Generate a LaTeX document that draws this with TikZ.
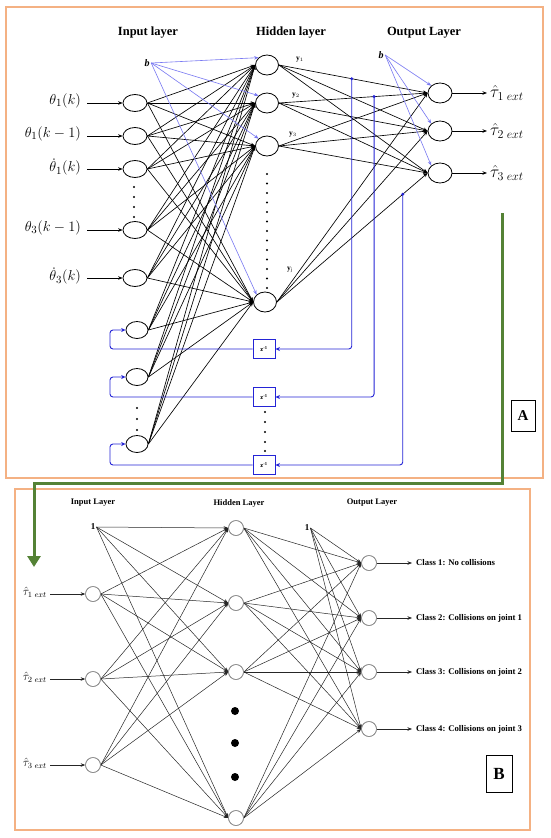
\documentclass[tikz,border=0pt]{standalone}
\usepackage{fontspec}
\setmainfont{Liberation Serif}
\usetikzlibrary{shapes.geometric,arrows.meta}
\definecolor{frameor}{HTML}{F4B183}
\definecolor{grn}{HTML}{548235}
\definecolor{lblue}{HTML}{7878F2}
\definecolor{dblue}{HTML}{2424D6}
\newcommand{\tauext}[2]{$\hat{\tau}_{\mbox{\fontsize{#2}{#2}\selectfont$#1\;ext$}}$}
\begin{document}
\begin{tikzpicture}[x=1pt,y=-1pt,
  inn/.style={ellipse,draw,line width=0.8pt,minimum width=24pt,minimum height=17pt,inner sep=0pt},
  ctx/.style={ellipse,draw,line width=0.8pt,minimum width=22pt,minimum height=17pt,inner sep=0pt},
  hid/.style={ellipse,draw,line width=0.8pt,minimum width=23pt,minimum height=20pt,inner sep=0pt},
  outn/.style={ellipse,draw,line width=0.8pt,minimum width=24pt,minimum height=20pt,inner sep=0pt},
  nline/.style={line width=0.65pt,-{Stealth[length=4.5pt,width=3.5pt]}},
  bline/.style={line width=0.6pt,lblue,-{Stealth[length=4.5pt,width=3.5pt]}},
  fbarr/.style={line width=0.9pt,dblue,rounded corners=3pt,-{Stealth[length=4.5pt,width=4pt]}},
  zbox/.style={draw=dblue,line width=0.9pt,minimum width=22pt,minimum height=19pt,inner sep=0pt,font=\fontsize{6.5}{7}\selectfont\bfseries},
  mlab/.style={font=\fontsize{15.5}{17}\selectfont,inner sep=1pt},
  tlab/.style={font=\fontsize{16}{17}\selectfont,inner sep=3pt},
  ttl/.style={font=\fontsize{12.5}{14}\selectfont\bfseries},
  ylab/.style={font=\fontsize{7.5}{8}\selectfont\bfseries,inner sep=0pt},
  bn/.style={circle,draw=black!45,line width=0.6pt,minimum size=15pt,inner sep=0pt,fill=white},
  bl/.style={line width=0.5pt,black!85,-{Stealth[length=4.5pt,width=3.5pt]}},
  ttlb/.style={font=\fontsize{8.5}{10}\selectfont\bfseries},
  cls/.style={font=\fontsize{8.7}{10}\selectfont\bfseries,anchor=west,inner sep=4pt},
  slab/.style={font=\fontsize{12}{13}\selectfont,inner sep=3pt,anchor=east},
  lettbox/.style={draw,line width=0.7pt,font=\fontsize{15}{17}\selectfont\bfseries,inner sep=0pt}
]
\useasboundingbox (0,0) rectangle (550,838);
\fill[white] (0,0) rectangle (550,838);

% frames
\draw[frameor,line width=1.2pt] (6,7) rectangle (543,478);
\draw[frameor,line width=1.2pt] (15,489) rectangle (530,830);

% ================= TOP PANEL =================
\node[ttl] (tin) at (148,33) {Input layer};
\node[ttl] (thid) at (291,33) {Hidden layer};
\node[ttl] (tout) at (424,33) {Output Layer};

% input neurons
\node[inn] (i1) at (135,103) {};
\node[inn] (i2) at (135,136) {};
\node[inn] (i3) at (135,169) {};
\node[inn] (i4) at (135,230) {};
\node[inn] (i5) at (135,278) {};
\node[ctx] (c1) at (137,330) {};
\node[ctx] (c2) at (137,377) {};
\node[ctx] (c3) at (137,444) {};

% hidden
\node[hid] (h1) at (267,65) {};
\node[hid] (h2) at (267,103) {};
\node[hid] (h3) at (267,146) {};
\node[hid] (h4) at (265,302) {};

% output
\node[outn] (o1) at (440,93) {};
\node[outn] (o2) at (440,131) {};
\node[outn] (o3) at (440,173) {};

% input labels
\node[mlab,anchor=east] (l1) at (82,101) {$\theta_1(k)$};
\node[mlab,anchor=east] (l2) at (82,134) {$\theta_1(k-1)$};
\node[mlab,anchor=east] (l3) at (82,167) {$\dot{\theta}_1(k)$};
\node[mlab,anchor=east] (l4) at (82,228) {$\theta_3(k-1)$};
\node[mlab,anchor=east] (l5) at (82,276) {$\dot{\theta}_3(k)$};
\foreach \a in {i1,i2,i3,i4,i5}
  \draw[nline] (\a.west -| 87,0) -- (\a.west);

% output labels
\node[tlab,anchor=west] (t1) at (487,93) {\tauext{1}{12}};
\node[tlab,anchor=west] (t2) at (487,131) {\tauext{2}{12}};
\node[tlab,anchor=west] (t3) at (487,173) {\tauext{3}{12}};
\foreach \a/\b in {o1/t1,o2/t2,o3/t3}
  \draw[nline] (\a.east) -- (\b.west);

% input -> hidden
\foreach \i in {i1,i2,i3,i4,i5,c1,c2,c3}
  \foreach \h in {h1,h2,h3,h4}
    \draw[nline] (\i.east) -- (\h.west);
% hidden -> output
\foreach \h in {h1,h2,h3,h4}
  \foreach \o in {o1,o2,o3}
    \draw[nline] (\h.east) -- (\o.west);

% y labels
\node[ylab] (y1) at (300,60) {y$_1$};
\node[ylab] (y2) at (296,96) {y$_2$};
\node[ylab] (y3) at (293,135) {y$_3$};
\node[ylab] (yj) at (290,270) {y$_\mathrm{j}$};

% bias b
\node[font=\fontsize{10}{12}\selectfont\bfseries\itshape,inner sep=1.5pt] (b1) at (147,63) {b};
\foreach \h in {h1,h2,h3,h4}
  \draw[bline] (b1.east) -- (\h.north west);
\node[font=\fontsize{10}{12}\selectfont\bfseries\itshape,inner sep=1.5pt] (b2) at (381,55) {b};
\foreach \o in {o1,o2,o3}
  \draw[bline] (b2.east) -- (\o.north west);

% dots
\foreach \y in {187,197,207,217} \fill (134,\y) circle (1.1);
\foreach \y in {174,183.5,...,288} \fill (267,\y) circle (1.1);
\foreach \y in {408,419,430} \fill (137,\y) circle (1.1);
\foreach \y in {412,422,432,442,451} \fill (265,\y) circle (1.1);

% feedback
\path (h1.east) -- (o1.west) coordinate[pos=0.49] (d1);
\path (h2.east) -- (o1.west) coordinate[pos=0.64] (d2);
\path (h4.east) -- (o3.west) coordinate[pos=0.835] (d3);
\foreach \d in {d1,d2,d3} \fill[dblue] (\d) circle (1.7);

\node[zbox] (z1) at (264,349) {z\textsuperscript{-1}};
\node[zbox] (z2) at (264,397) {z\textsuperscript{-1}};
\node[zbox] (z3) at (264,465) {z\textsuperscript{-1}};

\draw[fbarr] (d1) -- (d1 |- z1.east) -- (z1.east);
\draw[fbarr] (d2) -- (d2 |- z2.east) -- (z2.east);
\draw[fbarr] (d3) -- (d3 |- z3.east) -- (z3.east);

\coordinate (fx) at (110,0);
\draw[fbarr] (z1.west) -- (z1.west -| fx) -- (c1.west -| fx) -- (c1.west);
\draw[fbarr] (z2.west) -- (z2.west -| fx) -- (c2.west -| fx) -- (c2.west);
\draw[fbarr] (z3.west) -- (z3.west -| fx) -- (c3.west -| fx) -- (c3.west);

\node[lettbox,minimum width=24pt,minimum height=31pt] (A) at (523,416) {A};

% green arrow
\coordinate (g0) at (502,213);
\coordinate (g1) at (502,483);
\coordinate (g2) at (34,483);
\coordinate (g3) at (34,567);
\draw[grn,line width=3pt,-{Triangle[length=11pt,width=13pt]}] (g0) -- (g1) -- (g2) -- (g3);

% ================= BOTTOM PANEL =================
\node[ttlb] (bin) at (93,503) {Input Layer};
\node[ttlb] (bhid) at (239,503) {Hidden Layer};
\node[ttlb] (bout) at (372,503) {Output Layer};

\node[font=\fontsize{9}{10}\selectfont\bfseries,inner sep=1pt] (one1) at (93,527) {1};
\node[font=\fontsize{9}{10}\selectfont\bfseries,inner sep=1pt] (one2) at (307,528) {1};

\node[bn] (x1) at (93,594) {};
\node[bn] (x2) at (93,679) {};
\node[bn] (x3) at (93,765) {};

\node[bn] (g1n) at (236,528) {};
\node[bn] (g2n) at (236,603) {};
\node[bn] (g3n) at (236,672) {};
\node[bn] (g4n) at (236,818) {};

\node[bn] (p1) at (369,563) {};
\node[bn] (p2) at (369,618) {};
\node[bn] (p3) at (369,672) {};
\node[bn] (p4) at (369,729) {};

\foreach \y in {711,743,777} \fill (235,\y) circle (4);

\node[slab] (s1) at (50,592) {\tauext{1}{8.5}};
\node[slab] (s2) at (50,677) {\tauext{2}{8.5}};
\node[slab] (s3) at (50,763) {\tauext{3}{8.5}};
\foreach \a in {x1,x2,x3}
  \draw[bl] (\a.west -| 50,0) -- (\a.west);

\foreach \h in {g1n,g2n,g3n,g4n} {
  \draw[bl] (one1.east) -- (\h.west);
  \foreach \x in {x1,x2,x3}
    \draw[bl] (\x.east) -- (\h.west);
}
\foreach \p in {p1,p2,p3,p4} {
  \draw[bl] (one2.east) -- (\p.west);
  \foreach \h in {g1n,g2n,g3n,g4n}
    \draw[bl] (\h.east) -- (\p.west);
}
% redraw circles on top
\foreach \n in {x1,x2,x3,g1n,g2n,g3n,g4n,p1,p2,p3,p4}
  \draw[black!45,line width=0.6pt] (\n) circle (7.5);

\node[cls] (k1) at (412,563) {Class 1: No collisions};
\node[cls] (k2) at (412,618) {Class 2: Collisions on joint 1};
\node[cls] (k3) at (412,672) {Class 3: Collisions on joint 2};
\node[cls] (k4) at (412,729) {Class 4: Collisions on joint 3};
\foreach \a/\b in {p1/k1,p2/k2,p3/k3,p4/k4}
  \draw[bl] (\a.east) -- (\b.west);

\node[lettbox,minimum width=26pt,minimum height=37pt,font=\fontsize{17}{19}\selectfont\bfseries] (B) at (499,774) {B};
\end{tikzpicture}
\end{document}
